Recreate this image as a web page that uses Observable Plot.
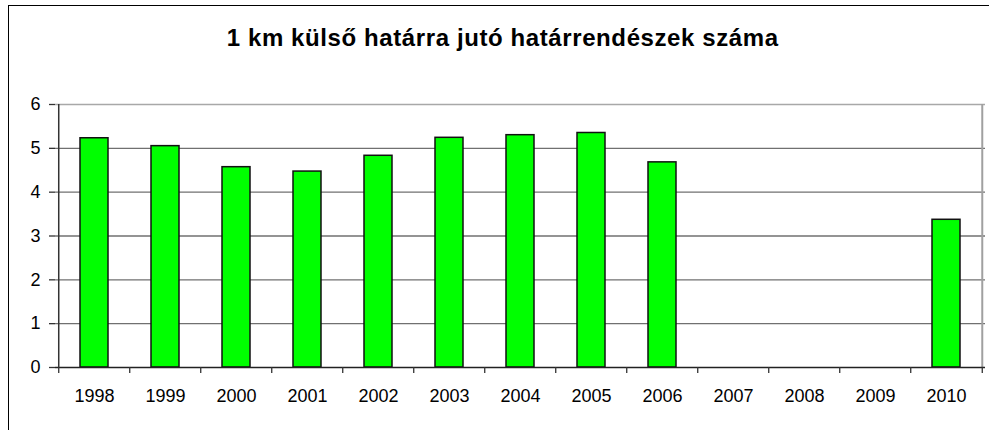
<!DOCTYPE html>
<html>
<head>
<meta charset="utf-8">
<script src="https://cdn.jsdelivr.net/npm/d3@7"></script>
<script src="https://cdn.jsdelivr.net/npm/@observablehq/plot@0.6"></script>
<style>
  html, body { margin: 0; padding: 0; background: #fff; }
  #wrap { position: relative; width: 989px; height: 430px; overflow: hidden; font-family: "Liberation Sans", Arial, sans-serif; }
  #border { position: absolute; left: 8px; top: 5px; width: 1200px; height: 600px; border-left: 1.5px solid #000; border-top: 1.5px solid #000; }
  #title { position: absolute; left: 0; top: 25.7px; width: 1005.4px; text-align: center; font-size: 24px; line-height: 1; font-weight: bold; letter-spacing: 0.6px; color: #000; white-space: nowrap; }
  #chart { position: absolute; left: 0; top: 0; }
</style>
</head>
<body>
<div id="wrap">
  <div id="chart"></div>
  <div id="border"></div>
  <div id="title">1 km külső határra jutó határrendészek száma</div>
</div>
<script>
const years = ["1998","1999","2000","2001","2002","2003","2004","2005","2006","2007","2008","2009","2010"];
const values = [5.23, 5.05, 4.57, 4.47, 4.83, 5.24, 5.30, 5.35, 4.68, null, null, null, 3.37];
const yTicks = [0, 1, 2, 3, 4, 5, 6];
const gridLines = [1, 2, 3, 4, 5];

const data = years.map((year, i) => ({year, value: values[i]}));
const bars = data.filter(d => d.value != null);

const W = 989, H = 430;
const mL = 55, mR = 4, mT = 104, mB = 63;
const step = (W - mL - mR) / years.length;

const plot = Plot.plot({
  width: W,
  height: H,
  marginLeft: mL,
  marginRight: mR,
  marginTop: mT,
  marginBottom: mB,
  style: {fontFamily: "'Liberation Sans', Arial, sans-serif", background: "transparent", color: "#000"},
  x: {domain: years, type: "band", paddingInner: 0.6, paddingOuter: 0.3, axis: null, label: null},
  y: {domain: [0, 6], axis: null, label: null},
  marks: [
    Plot.ruleY(gridLines, {stroke: "#707070", strokeWidth: 1.3, strokeOpacity: 1}),
    Plot.ruleY([6], {stroke: "#a8a8a8", strokeWidth: 1.3, strokeOpacity: 1}),
    Plot.ruleX([years[years.length - 1]], {y1: 0, y2: 6, dx: step / 2, stroke: "#a0a0a0", strokeWidth: 2, strokeOpacity: 1}),
    Plot.barY(bars, {x: "year", y: "value", fill: "#00ff00", stroke: "#111", strokeWidth: 1.5}),
    Plot.ruleY([0], {stroke: "#222", strokeWidth: 1.5, strokeOpacity: 1}),
    Plot.ruleX([years[0]], {y1: 0, y2: 6, dx: -step / 2, stroke: "#333", strokeWidth: 1.5, strokeOpacity: 1}),
    Plot.axisY({ticks: yTicks, label: null, tickSize: 6, tickPadding: 9, tickFormat: d => String(d), fontSize: 18, stroke: "#333", strokeWidth: 1.3, fill: "#000"}),
    Plot.axisX({ticks: years, label: null, tickSize: 6, tickFormat: () => "", dx: -step / 2, stroke: "#333", strokeWidth: 1.3}),
    Plot.axisX({ticks: [years[years.length - 1]], label: null, tickSize: 6, tickFormat: () => "", dx: step / 2, stroke: "#333", strokeWidth: 1.3}),
    Plot.axisX({ticks: years, label: null, tickSize: 0, tickPadding: 22, fontSize: 18, fill: "#000"})
  ]
});
document.getElementById("chart").appendChild(plot);
</script>
</body>
</html>
